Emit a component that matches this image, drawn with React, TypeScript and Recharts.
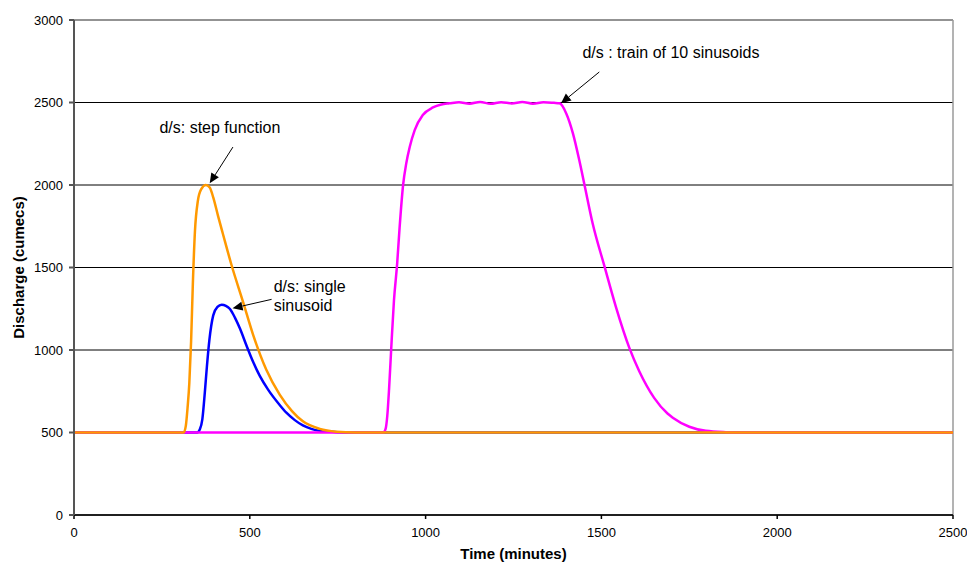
import { LineChart, Line, XAxis, YAxis, CartesianGrid, ReferenceLine, ReferenceDot, Label } from "recharts";

// d/s step function
const STEP_T = [0, 300, 312, 318, 323, 328, 333, 338, 344, 352, 362, 375, 386, 396, 410, 424, 448, 481, 509, 547, 585, 620, 651, 699, 746, 800, 2500];
const STEP_V = [500, 500, 500, 540, 650, 800, 1050, 1400, 1720, 1900, 1975, 2000, 1985, 1925, 1810, 1700, 1515, 1290, 1095, 880, 730, 630, 568, 522, 505, 500, 500];

// d/s single sinusoid
const SINE_T = [0, 350, 358, 365, 372, 378, 385, 396, 408, 420, 432, 443, 458, 472, 490, 509, 528, 552, 585, 604, 628, 651, 675, 699, 750, 800, 2500];
const SINE_V = [500, 500, 520, 580, 740, 900, 1060, 1210, 1262, 1275, 1268, 1250, 1195, 1130, 1030, 930, 845, 760, 667, 620, 575, 543, 522, 510, 502, 500, 500];

// d/s train of 10 sinusoids
const TRAIN_T = [0, 880, 886, 891, 896, 902, 910, 919, 926, 936, 945, 955, 969, 992, 1021, 1045, 1068, 1095, 1125, 1155, 1185, 1215, 1245, 1275, 1305, 1335, 1365, 1381, 1400, 1419, 1437, 1452, 1475, 1509, 1541, 1580, 1608, 1650, 1688, 1703, 1750, 1797, 1854, 1900, 2500];
const TRAIN_V = [500, 500, 520, 600, 760, 1000, 1300, 1520, 1740, 2000, 2131, 2232, 2333, 2424, 2470, 2488, 2495, 2502, 2493, 2503, 2492, 2502, 2494, 2503, 2493, 2502, 2498, 2495, 2434, 2313, 2151, 2000, 1768, 1505, 1263, 1010, 870, 710, 615, 590, 535, 510, 502, 500, 500];

const X_TICKS = [0, 500, 1000, 1500, 2000, 2500];
const Y_TICKS = [0, 500, 1000, 1500, 2000, 2500, 3000];

// annotations: text anchor point, arrow start, arrow tip (data units)
const NOTES = [
  { lines: ["d/s: step function"], at: [415, 2352], anchor: "middle", from: [452, 2230], to: [386, 2010] },
  { lines: ["d/s: single", "sinusoid"], at: [568, 1384], anchor: "start", from: [562, 1307], to: [451, 1253] },
  { lines: ["d/s : train of 10 sinusoids"], at: [1446, 2806], anchor: "start", from: [1494, 2685], to: [1385, 2495] },
];

const FONT = "'Liberation Sans', Arial, sans-serif";

const toData = (ts: number[], vs: number[]) => ts.map((t, i) => ({ t, v: vs[i] }));

const Arrow = (p: any) => {
  const { x1, y1, x2, y2 } = p;
  const dx = x2 - x1;
  const dy = y2 - y1;
  const len = Math.sqrt(dx * dx + dy * dy) || 1;
  const ux = dx / len;
  const uy = dy / len;
  const hl = 10;
  const hw = 4.5;
  const bx = x2 - ux * hl;
  const by = y2 - uy * hl;
  const pts = `${x2},${y2} ${bx - uy * hw},${by + ux * hw} ${bx + uy * hw},${by - ux * hw}`;
  return (
    <g>
      <line x1={x1} y1={y1} x2={bx} y2={by} stroke="#000" strokeWidth={1} />
      <polygon points={pts} fill="#000" />
    </g>
  );
};

export default function App() {
  const step = toData(STEP_T, STEP_V);
  const sine = toData(SINE_T, SINE_V);
  const train = toData(TRAIN_T, TRAIN_V);

  return (
    <div style={{ position: "absolute", left: 0, top: 0, fontFamily: FONT, background: "#fff" }}>
      <LineChart width={967} height={568} margin={{ top: 20, right: 14, bottom: 0, left: 0 }}>
        <CartesianGrid vertical={false} stroke="#000" strokeWidth={1} />
        <XAxis
          dataKey="t"
          type="number"
          domain={[0, 2500]}
          ticks={X_TICKS}
          height={53}
          tickSize={4}
          tickMargin={9}
          stroke="#000"
          strokeWidth={1.5}
          tick={{ fill: "#000", fontSize: 13, fontFamily: FONT }}
        >
          <Label
            content={(props: any) => {
              const vb = props.viewBox;
              return (
                <text x={vb.x + vb.width / 2} y={vb.y + vb.height - 9} textAnchor="middle" fontSize={15} fontWeight="bold" fontFamily={FONT} fill="#000">
                  Time (minutes)
                </text>
              );
            }}
          />
        </XAxis>
        <YAxis
          type="number"
          domain={[0, 3000]}
          ticks={Y_TICKS}
          width={74}
          tickSize={5}
          tickMargin={6}
          stroke="#555"
          strokeWidth={2}
          tick={{ fill: "#000", fontSize: 13, fontFamily: FONT }}
        >
          <Label
            content={(props: any) => {
              const vb = props.viewBox;
              const cx = vb.x + 18;
              const cy = vb.y + vb.height / 2;
              return (
                <text x={cx} y={cy} transform={`rotate(-90, ${cx}, ${cy})`} textAnchor="middle" dominantBaseline="central" fontSize={15} fontWeight="bold" fontFamily={FONT} fill="#000">
                  Discharge (cumecs)
                </text>
              );
            }}
          />
        </YAxis>
        <ReferenceLine y={3000} stroke="#9a9a9a" strokeWidth={1.5} />
        <ReferenceLine x={2500} stroke="#9a9a9a" strokeWidth={1.5} />
        <Line data={sine} dataKey="v" type="monotone" stroke="#0000FF" strokeWidth={2.5} dot={false} isAnimationActive={false} />
        <Line data={train} dataKey="v" type="monotone" stroke="#FF00FF" strokeWidth={2.5} dot={false} isAnimationActive={false} />
        <Line data={step} dataKey="v" type="monotone" stroke="#FF9900" strokeWidth={2.5} dot={false} isAnimationActive={false} />
        {NOTES.map((n, i) => (
          <ReferenceLine
            key={`arrow-${i}`}
            segment={[{ x: n.from[0], y: n.from[1] }, { x: n.to[0], y: n.to[1] }]}
            shape={Arrow}
          />
        ))}
        {NOTES.map((n, i) => (
          <ReferenceDot
            key={`note-${i}`}
            x={n.at[0]}
            y={n.at[1]}
            r={0}
            shape={(p: any) => (
              <text x={p.cx} y={p.cy} textAnchor={n.anchor as any} fontSize={16} fontFamily={FONT} fill="#000">
                {n.lines.map((s, j) => (
                  <tspan key={j} x={p.cx} dy={j === 0 ? "0.35em" : "1.2em"}>
                    {s}
                  </tspan>
                ))}
              </text>
            )}
          />
        ))}
      </LineChart>
    </div>
  );
}
